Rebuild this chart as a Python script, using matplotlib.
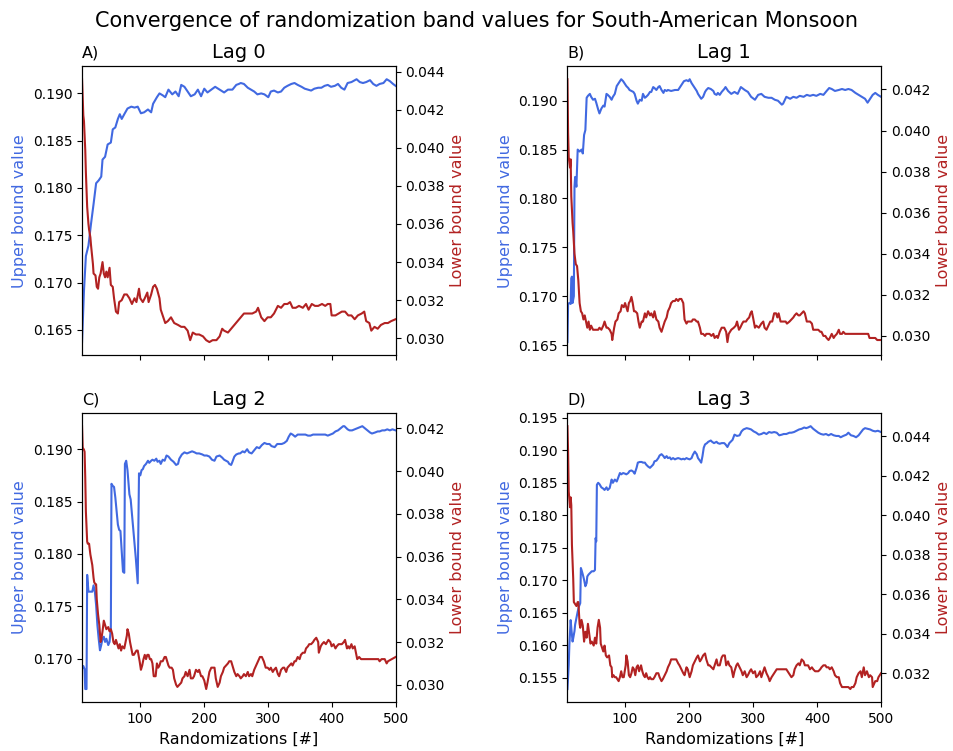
import matplotlib
matplotlib.use("Agg")
import matplotlib.pyplot as plt

### DATA ###
# Lag 0
lag0_up_x = [10, 13, 16, 20, 24, 28, 32, 36, 40, 42,
             46, 50, 55, 58, 62, 66, 69, 72, 76, 81,
             87, 92, 97, 102, 107, 113, 118, 121, 127, 131,
             136, 140, 145, 151, 156, 161, 165, 170, 175, 180,
             186, 191, 196, 201, 206, 212, 218, 225, 232, 238,
             245, 251, 255, 258, 263, 269, 274, 279, 284, 290,
             295, 301, 305, 310, 316, 321, 326, 331, 337, 342,
             347, 353, 358, 363, 368, 373, 379, 384, 389, 394,
             399, 405, 410, 415, 420, 425, 431, 439, 444, 449,
             454, 460, 465, 470, 475, 481, 486, 491, 496, 500]
lag0_up = [0.1637, 0.1691, 0.1728, 0.1739, 0.1762, 0.1783, 0.1805, 0.1808, 0.1812, 0.1830,
           0.1833, 0.1846, 0.1848, 0.1862, 0.1864, 0.1873, 0.1878, 0.1873, 0.1878, 0.1884,
           0.1886, 0.1885, 0.1886, 0.1879, 0.1880, 0.1883, 0.1880, 0.1889, 0.1896, 0.1900,
           0.1898, 0.1896, 0.1904, 0.1899, 0.1902, 0.1897, 0.1909, 0.1907, 0.1902, 0.1897,
           0.1899, 0.1904, 0.1897, 0.1905, 0.1901, 0.1904, 0.1907, 0.1904, 0.1901, 0.1904,
           0.1904, 0.1909, 0.1910, 0.1911, 0.1910, 0.1906, 0.1904, 0.1902, 0.1899, 0.1900,
           0.1899, 0.1896, 0.1902, 0.1903, 0.1901, 0.1902, 0.1906, 0.1908, 0.1910, 0.1911,
           0.1909, 0.1907, 0.1905, 0.1904, 0.1903, 0.1905, 0.1906, 0.1906, 0.1908, 0.1909,
           0.1907, 0.1908, 0.1910, 0.1906, 0.1904, 0.1911, 0.1912, 0.1915, 0.1912, 0.1911,
           0.1912, 0.1914, 0.1910, 0.1908, 0.1910, 0.1911, 0.1915, 0.1913, 0.1910, 0.1908]
lag0_low_x = [10, 12, 13, 15, 16, 18, 20, 21, 23, 24,
              27, 28, 31, 33, 35, 37, 39, 42, 44, 46,
              48, 50, 53, 55, 58, 60, 63, 66, 68, 72,
              76, 80, 84, 88, 92, 95, 99, 101, 105, 108,
              112, 114, 118, 121, 124, 127, 131, 133, 137, 140,
              144, 149, 154, 160, 165, 170, 175, 179, 183, 188,
              193, 199, 204, 209, 214, 220, 225, 229, 232, 238,
              243, 248, 253, 258, 263, 269, 276, 282, 285, 290,
              295, 300, 305, 310, 316, 321, 326, 331, 335, 339,
              344, 349, 355, 360, 364, 369, 374, 379, 385, 390,
              394, 398, 400, 406, 411, 416, 421, 426, 431, 436,
              441, 447, 451, 454, 459, 462, 467, 472, 477, 483,
              488, 493, 500]
lag0_low = [0.0436, 0.0417, 0.0414, 0.0399, 0.0387, 0.0369, 0.0360, 0.0357, 0.0353, 0.0349,
            0.0339, 0.0334, 0.0333, 0.0327, 0.0326, 0.0332, 0.0334, 0.0340, 0.0334, 0.0332,
            0.0335, 0.0332, 0.0337, 0.0328, 0.0327, 0.0321, 0.0314, 0.0313, 0.0319, 0.0320,
            0.0323, 0.0323, 0.0321, 0.0318, 0.0321, 0.0319, 0.0326, 0.0321, 0.0319, 0.0321,
            0.0324, 0.0319, 0.0323, 0.0327, 0.0328, 0.0326, 0.0321, 0.0315, 0.0311, 0.0308,
            0.0309, 0.0311, 0.0308, 0.0307, 0.0306, 0.0306, 0.0304, 0.0299, 0.0303, 0.0302,
            0.0302, 0.0301, 0.0299, 0.0298, 0.0299, 0.0299, 0.0301, 0.0305, 0.0304, 0.0303,
            0.0305, 0.0307, 0.0309, 0.0311, 0.0313, 0.0313, 0.0313, 0.0314, 0.0316, 0.0311,
            0.0309, 0.0311, 0.0311, 0.0313, 0.0317, 0.0316, 0.0318, 0.0318, 0.0319, 0.0316,
            0.0316, 0.0317, 0.0316, 0.0318, 0.0315, 0.0318, 0.0317, 0.0317, 0.0318, 0.0317,
            0.0318, 0.0318, 0.0312, 0.0312, 0.0313, 0.0314, 0.0314, 0.0312, 0.0312, 0.0310,
            0.0312, 0.0313, 0.0314, 0.0309, 0.0308, 0.0304, 0.0306, 0.0305, 0.0307, 0.0308,
            0.0308, 0.0309, 0.0310]

# Lag 1
lag1_up_x = [10, 11, 13, 15, 16, 17, 18, 20, 21, 22,
             24, 26, 29, 32, 34, 36, 38, 40, 42, 45,
             47, 50, 53, 55, 58, 60, 63, 66, 68, 71,
             73, 76, 79, 81, 84, 87, 89, 92, 94, 97,
             100, 102, 105, 107, 110, 113, 115, 118, 120, 123,
             126, 128, 131, 133, 136, 139, 141, 144, 146, 149,
             152, 154, 157, 160, 162, 165, 167, 172, 178, 183,
             188, 192, 196, 199, 201, 204, 206, 209, 212, 214,
             217, 219, 222, 225, 227, 230, 234, 238, 240, 243,
             245, 248, 251, 255, 257, 261, 266, 271, 276, 281,
             287, 292, 297, 303, 308, 313, 318, 324, 329, 334,
             339, 345, 347, 352, 358, 363, 368, 373, 379, 384,
             389, 394, 399, 405, 410, 415, 419, 423, 428, 434,
             439, 444, 449, 454, 460, 465, 470, 475, 479, 483,
             487, 491, 495, 500]
lag1_up = [0.1653, 0.1692, 0.1693, 0.1692, 0.1718, 0.1720, 0.1693, 0.1700, 0.1812, 0.1822,
           0.1812, 0.1850, 0.1848, 0.1850, 0.1846, 0.1865, 0.1870, 0.1903, 0.1905, 0.1907,
           0.1904, 0.1901, 0.1902, 0.1898, 0.1891, 0.1887, 0.1892, 0.1895, 0.1894, 0.1907,
           0.1906, 0.1904, 0.1901, 0.1904, 0.1907, 0.1915, 0.1917, 0.1920, 0.1922, 0.1920,
           0.1917, 0.1915, 0.1913, 0.1911, 0.1910, 0.1909, 0.1907, 0.1900, 0.1897, 0.1901,
           0.1900, 0.1907, 0.1903, 0.1904, 0.1906, 0.1909, 0.1909, 0.1914, 0.1913, 0.1911,
           0.1914, 0.1915, 0.1911, 0.1908, 0.1911, 0.1910, 0.1911, 0.1910, 0.1911, 0.1911,
           0.1916, 0.1920, 0.1921, 0.1920, 0.1922, 0.1918, 0.1916, 0.1913, 0.1910, 0.1907,
           0.1904, 0.1902, 0.1904, 0.1909, 0.1911, 0.1913, 0.1912, 0.1910, 0.1907, 0.1906,
           0.1908, 0.1906, 0.1909, 0.1912, 0.1914, 0.1910, 0.1907, 0.1909, 0.1907, 0.1914,
           0.1911, 0.1909, 0.1904, 0.1901, 0.1906, 0.1907, 0.1904, 0.1903, 0.1903, 0.1901,
           0.1900, 0.1896, 0.1897, 0.1904, 0.1902, 0.1904, 0.1903, 0.1905, 0.1904, 0.1906,
           0.1905, 0.1906, 0.1905, 0.1907, 0.1906, 0.1910, 0.1913, 0.1912, 0.1910, 0.1911,
           0.1912, 0.1911, 0.1912, 0.1911, 0.1908, 0.1906, 0.1904, 0.1902, 0.1898, 0.1902,
           0.1906, 0.1908, 0.1906, 0.1904]
lag1_low_x = [10, 11, 12, 14, 15, 16, 18, 19, 21, 23,
              25, 27, 29, 31, 33, 35, 37, 39, 41, 43,
              45, 47, 50, 53, 55, 58, 60, 63, 66, 68,
              71, 73, 76, 79, 80, 83, 85, 88, 90, 93,
              95, 98, 100, 104, 106, 108, 110, 112, 114, 116,
              119, 121, 123, 126, 128, 131, 133, 136, 139, 141,
              144, 146, 149, 152, 154, 157, 159, 162, 165, 167,
              170, 172, 175, 178, 180, 183, 185, 188, 191, 193,
              196, 198, 201, 204, 206, 209, 212, 214, 217, 219,
              222, 225, 227, 230, 232, 235, 238, 240, 243, 245,
              248, 251, 255, 258, 260, 262, 266, 270, 273, 275,
              278, 280, 283, 285, 289, 291, 294, 296, 298, 300,
              303, 305, 309, 313, 316, 318, 321, 324, 327, 330,
              333, 336, 338, 340, 343, 346, 348, 351, 353, 357,
              360, 363, 365, 368, 371, 373, 376, 379, 381, 384,
              386, 389, 392, 394, 397, 400, 402, 405, 407, 410,
              413, 415, 418, 420, 423, 426, 428, 431, 434, 436,
              439, 441, 444, 447, 480, 482, 486, 491, 494, 500]
lag1_low = [0.0425, 0.0399, 0.0387, 0.0382, 0.0386, 0.0368, 0.0355, 0.0351, 0.0340, 0.0335,
            0.0334, 0.0327, 0.0316, 0.0312, 0.0311, 0.0308, 0.0310, 0.0307, 0.0304, 0.0307,
            0.0303, 0.0305, 0.0303, 0.0303, 0.0303, 0.0303, 0.0304, 0.0303, 0.0305, 0.0307,
            0.0304, 0.0304, 0.0303, 0.0301, 0.0298, 0.0304, 0.0307, 0.0308, 0.0311, 0.0312,
            0.0315, 0.0314, 0.0316, 0.0312, 0.0316, 0.0317, 0.0319, 0.0316, 0.0312, 0.0312,
            0.0311, 0.0307, 0.0304, 0.0307, 0.0307, 0.0311, 0.0309, 0.0312, 0.0310, 0.0311,
            0.0309, 0.0312, 0.0308, 0.0307, 0.0304, 0.0302, 0.0304, 0.0307, 0.0309, 0.0312,
            0.0314, 0.0316, 0.0317, 0.0317, 0.0318, 0.0317, 0.0318, 0.0318, 0.0316, 0.0308,
            0.0306, 0.0307, 0.0307, 0.0307, 0.0308, 0.0308, 0.0307, 0.0307, 0.0304, 0.0301,
            0.0301, 0.0300, 0.0301, 0.0301, 0.0301, 0.0300, 0.0301, 0.0299, 0.0300, 0.0299,
            0.0302, 0.0304, 0.0304, 0.0302, 0.0297, 0.0301, 0.0303, 0.0304, 0.0305, 0.0307,
            0.0303, 0.0304, 0.0306, 0.0307, 0.0307, 0.0308, 0.0309, 0.0311, 0.0312, 0.0309,
            0.0304, 0.0305, 0.0304, 0.0306, 0.0307, 0.0304, 0.0303, 0.0305, 0.0307, 0.0307,
            0.0311, 0.0311, 0.0309, 0.0311, 0.0307, 0.0307, 0.0307, 0.0307, 0.0306, 0.0307,
            0.0308, 0.0309, 0.0310, 0.0311, 0.0310, 0.0310, 0.0311, 0.0312, 0.0311, 0.0307,
            0.0307, 0.0307, 0.0306, 0.0303, 0.0303, 0.0303, 0.0303, 0.0302, 0.0302, 0.0300,
            0.0300, 0.0299, 0.0298, 0.0299, 0.0301, 0.0299, 0.0300, 0.0301, 0.0303, 0.0301,
            0.0301, 0.0302, 0.0301, 0.0301, 0.0301, 0.0299, 0.0299, 0.0299, 0.0298, 0.0298]

# Lag 2
lag2_up_x = [10, 12, 14, 15, 17, 18, 20, 22, 26, 28,
             30, 32, 34, 36, 38, 40, 42, 44, 46, 48,
             51, 53, 55, 56, 58, 60, 62, 64, 66, 68,
             70, 72, 74, 76, 77, 79, 81, 84, 86, 88,
             90, 92, 94, 96, 97, 99, 101, 103, 105, 107,
             110, 113, 115, 118, 120, 123, 126, 128, 131, 133,
             136, 139, 142, 145, 149, 153, 157, 160, 162, 166,
             170, 174, 178, 182, 186, 189, 193, 198, 201, 205,
             209, 213, 217, 220, 225, 229, 232, 235, 238, 240,
             243, 245, 248, 251, 255, 257, 261, 264, 268, 271,
             275, 279, 283, 287, 291, 295, 299, 303, 306, 311,
             315, 318, 322, 326, 330, 333, 336, 339, 343, 347,
             351, 355, 359, 363, 367, 371, 374, 379, 383, 386,
             390, 394, 398, 402, 406, 410, 414, 418, 420, 425,
             428, 432, 436, 440, 444, 448, 452, 456, 460, 463,
             468, 472, 475, 479, 483, 487, 491, 495, 500]
lag2_up = [0.1690, 0.1693, 0.1690, 0.1671, 0.1671, 0.1780, 0.1764, 0.1764, 0.1764, 0.1770,
           0.1764, 0.1751, 0.1732, 0.1719, 0.1708, 0.1713, 0.1719, 0.1721, 0.1716, 0.1719,
           0.1713, 0.1716, 0.1729, 0.1867, 0.1865, 0.1864, 0.1854, 0.1841, 0.1828, 0.1823,
           0.1822, 0.1803, 0.1783, 0.1782, 0.1886, 0.1889, 0.1880, 0.1857, 0.1852, 0.1838,
           0.1825, 0.1809, 0.1796, 0.1780, 0.1772, 0.1877, 0.1875, 0.1880, 0.1881, 0.1884,
           0.1886, 0.1889, 0.1887, 0.1889, 0.1890, 0.1889, 0.1891, 0.1888, 0.1889, 0.1886,
           0.1890, 0.1889, 0.1894, 0.1893, 0.1890, 0.1888, 0.1885, 0.1886, 0.1891, 0.1895,
           0.1897, 0.1896, 0.1897, 0.1898, 0.1897, 0.1896, 0.1896, 0.1895, 0.1894, 0.1894,
           0.1893, 0.1890, 0.1889, 0.1893, 0.1894, 0.1892, 0.1890, 0.1889, 0.1888, 0.1886,
           0.1885, 0.1888, 0.1893, 0.1895, 0.1896, 0.1896, 0.1898, 0.1897, 0.1900, 0.1897,
           0.1896, 0.1899, 0.1902, 0.1901, 0.1904, 0.1906, 0.1905, 0.1905, 0.1903, 0.1902,
           0.1905, 0.1905, 0.1905, 0.1906, 0.1908, 0.1912, 0.1915, 0.1914, 0.1912, 0.1914,
           0.1914, 0.1914, 0.1914, 0.1913, 0.1913, 0.1914, 0.1914, 0.1914, 0.1914, 0.1914,
           0.1914, 0.1913, 0.1914, 0.1915, 0.1917, 0.1918, 0.1920, 0.1922, 0.1922, 0.1919,
           0.1918, 0.1918, 0.1919, 0.1920, 0.1921, 0.1922, 0.1920, 0.1918, 0.1916, 0.1915,
           0.1916, 0.1917, 0.1917, 0.1918, 0.1918, 0.1919, 0.1918, 0.1919, 0.1918]
lag2_low_x = [10, 11, 13, 14, 15, 16, 18, 19, 21, 23,
              26, 28, 29, 31, 32, 33, 35, 37, 39, 40,
              42, 44, 46, 48, 51, 53, 55, 57, 59, 61,
              63, 65, 67, 69, 71, 73, 76, 78, 80, 81,
              83, 85, 87, 89, 91, 93, 95, 97, 100, 102,
              104, 106, 108, 110, 112, 114, 116, 118, 120, 122,
              125, 127, 129, 131, 133, 136, 139, 141, 143, 145,
              147, 150, 152, 154, 157, 159, 162, 165, 167, 170,
              172, 175, 178, 180, 183, 185, 188, 191, 193, 196,
              198, 201, 204, 206, 209, 212, 214, 217, 219, 222,
              225, 227, 230, 232, 235, 238, 240, 243, 245, 248,
              251, 253, 256, 258, 261, 263, 266, 269, 271, 274,
              276, 279, 282, 285, 288, 291, 294, 297, 300, 303,
              305, 308, 310, 313, 316, 318, 321, 324, 326, 329,
              331, 334, 337, 339, 342, 344, 347, 350, 352, 355,
              358, 360, 363, 365, 368, 371, 373, 376, 379, 380,
              383, 385, 388, 391, 393, 395, 398, 400, 403, 406,
              408, 411, 414, 416, 419, 421, 424, 426, 428, 431,
              433, 436, 438, 440, 443, 446, 470, 473, 475, 478,
              483, 486, 488, 494, 500]
lag2_low = [0.0421, 0.0411, 0.0410, 0.0409, 0.0397, 0.0381, 0.0367, 0.0366, 0.0366, 0.0361,
            0.0356, 0.0350, 0.0348, 0.0347, 0.0347, 0.0340, 0.0333, 0.0328, 0.0320, 0.0321,
            0.0325, 0.0330, 0.0328, 0.0326, 0.0327, 0.0325, 0.0326, 0.0324, 0.0320, 0.0319,
            0.0321, 0.0319, 0.0317, 0.0319, 0.0316, 0.0318, 0.0317, 0.0320, 0.0323, 0.0326,
            0.0324, 0.0320, 0.0317, 0.0314, 0.0314, 0.0315, 0.0316, 0.0316, 0.0311, 0.0307,
            0.0309, 0.0312, 0.0314, 0.0312, 0.0314, 0.0314, 0.0312, 0.0312, 0.0310, 0.0304,
            0.0304, 0.0310, 0.0308, 0.0309, 0.0311, 0.0311, 0.0313, 0.0313, 0.0311, 0.0309,
            0.0308, 0.0308, 0.0307, 0.0303, 0.0300, 0.0299, 0.0300, 0.0301, 0.0303, 0.0304,
            0.0306, 0.0304, 0.0307, 0.0303, 0.0303, 0.0304, 0.0307, 0.0306, 0.0307, 0.0304,
            0.0304, 0.0302, 0.0298, 0.0301, 0.0306, 0.0308, 0.0308, 0.0308, 0.0303, 0.0299,
            0.0301, 0.0304, 0.0306, 0.0308, 0.0309, 0.0310, 0.0311, 0.0311, 0.0309, 0.0306,
            0.0304, 0.0305, 0.0304, 0.0303, 0.0304, 0.0305, 0.0304, 0.0306, 0.0304, 0.0305,
            0.0304, 0.0307, 0.0309, 0.0311, 0.0313, 0.0313, 0.0311, 0.0308, 0.0308, 0.0307,
            0.0308, 0.0306, 0.0307, 0.0308, 0.0305, 0.0304, 0.0307, 0.0308, 0.0308, 0.0306,
            0.0308, 0.0309, 0.0310, 0.0309, 0.0311, 0.0311, 0.0313, 0.0312, 0.0314, 0.0315,
            0.0315, 0.0317, 0.0318, 0.0319, 0.0319, 0.0320, 0.0321, 0.0322, 0.0320, 0.0315,
            0.0318, 0.0319, 0.0320, 0.0319, 0.0320, 0.0321, 0.0320, 0.0318, 0.0319, 0.0317,
            0.0318, 0.0319, 0.0319, 0.0319, 0.0320, 0.0321, 0.0317, 0.0318, 0.0317, 0.0319,
            0.0317, 0.0318, 0.0315, 0.0312, 0.0313, 0.0312, 0.0312, 0.0312, 0.0311, 0.0312,
            0.0312, 0.0310, 0.0311, 0.0312, 0.0313]

# Lag 3
lag3_up_x = [10, 12, 13, 15, 16, 18, 19, 21, 22, 24,
             26, 28, 30, 31, 32, 34, 36, 38, 40, 41,
             43, 45, 48, 51, 53, 54, 55, 56, 58, 60,
             63, 66, 68, 71, 73, 76, 79, 81, 84, 87,
             89, 92, 94, 97, 100, 102, 105, 107, 110, 113,
             115, 118, 120, 123, 126, 128, 131, 133, 136, 139,
             141, 144, 146, 149, 152, 154, 157, 160, 162, 165,
             167, 170, 172, 175, 178, 180, 183, 186, 188, 191,
             193, 196, 198, 201, 204, 206, 209, 212, 214, 217,
             219, 221, 223, 225, 228, 230, 234, 236, 239, 243,
             245, 248, 251, 255, 257, 260, 263, 268, 271, 275,
             279, 282, 285, 290, 294, 297, 301, 305, 309, 313,
             317, 321, 325, 329, 333, 337, 341, 345, 348, 352,
             357, 360, 364, 368, 372, 376, 380, 383, 386, 390,
             394, 398, 402, 406, 410, 414, 418, 422, 426, 430,
             434, 437, 441, 446, 449, 453, 457, 461, 465, 469,
             472, 475, 479, 483, 487, 491, 495, 500]
lag3_up = [0.1533, 0.1570, 0.1601, 0.1639, 0.1627, 0.1606, 0.1611, 0.1622, 0.1632, 0.1642,
           0.1652, 0.1660, 0.1665, 0.1719, 0.1716, 0.1709, 0.1701, 0.1691, 0.1696, 0.1706,
           0.1709, 0.1711, 0.1714, 0.1714, 0.1716, 0.1765, 0.1760, 0.1847, 0.1850, 0.1848,
           0.1843, 0.1841, 0.1839, 0.1843, 0.1839, 0.1842, 0.1855, 0.1850, 0.1855, 0.1852,
           0.1857, 0.1865, 0.1863, 0.1865, 0.1864, 0.1863, 0.1865, 0.1868, 0.1869, 0.1867,
           0.1864, 0.1873, 0.1881, 0.1882, 0.1882, 0.1881, 0.1881, 0.1878, 0.1875, 0.1873,
           0.1875, 0.1878, 0.1883, 0.1884, 0.1888, 0.1892, 0.1894, 0.1891, 0.1888, 0.1891,
           0.1888, 0.1889, 0.1886, 0.1888, 0.1886, 0.1887, 0.1888, 0.1887, 0.1886, 0.1887,
           0.1886, 0.1888, 0.1887, 0.1886, 0.1888, 0.1893, 0.1898, 0.1894, 0.1888, 0.1884,
           0.1881, 0.1891, 0.1904, 0.1909, 0.1911, 0.1913, 0.1915, 0.1913, 0.1911, 0.1913,
           0.1911, 0.1910, 0.1911, 0.1911, 0.1909, 0.1905, 0.1911, 0.1916, 0.1924, 0.1922,
           0.1923, 0.1929, 0.1932, 0.1934, 0.1933, 0.1932, 0.1929, 0.1927, 0.1924, 0.1925,
           0.1927, 0.1925, 0.1928, 0.1927, 0.1928, 0.1927, 0.1923, 0.1924, 0.1925, 0.1925,
           0.1927, 0.1927, 0.1928, 0.1930, 0.1932, 0.1933, 0.1935, 0.1934, 0.1935, 0.1937,
           0.1933, 0.1930, 0.1927, 0.1925, 0.1924, 0.1925, 0.1923, 0.1925, 0.1923, 0.1922,
           0.1922, 0.1920, 0.1922, 0.1924, 0.1927, 0.1923, 0.1922, 0.1920, 0.1923, 0.1928,
           0.1932, 0.1934, 0.1933, 0.1932, 0.1930, 0.1929, 0.1930, 0.1928]
lag3_low_x = [10, 11, 12, 14, 15, 16, 17, 19, 20, 22,
              24, 26, 27, 29, 30, 32, 34, 36, 38, 40,
              42, 44, 46, 48, 51, 53, 55, 57, 59, 61,
              62, 64, 66, 68, 70, 72, 75, 77, 79, 80,
              82, 84, 86, 88, 90, 92, 94, 96, 98, 101,
              102, 104, 106, 108, 110, 112, 114, 116, 118, 120,
              122, 125, 127, 129, 131, 133, 135, 137, 139, 141,
              144, 146, 149, 152, 154, 157, 159, 162, 165, 167,
              170, 172, 175, 178, 180, 183, 185, 188, 191, 193,
              196, 198, 201, 204, 206, 209, 212, 214, 217, 219,
              222, 225, 227, 230, 232, 235, 238, 240, 243, 245,
              248, 251, 253, 256, 258, 261, 263, 266, 269, 271,
              274, 276, 279, 282, 284, 287, 290, 292, 295, 297,
              300, 303, 305, 308, 311, 313, 316, 318, 321, 324,
              326, 329, 331, 337, 342, 347, 352, 358, 360, 363,
              365, 368, 371, 373, 376, 379, 381, 384, 386, 389,
              392, 394, 397, 400, 402, 405, 407, 410, 413, 415,
              418, 420, 423, 426, 428, 431, 434, 436, 439, 441,
              444, 447, 449, 452, 454, 457, 460, 462, 465, 468,
              470, 473, 475, 478, 481, 483, 486, 487, 491, 494,
              496, 500]
lag3_low = [0.0445, 0.0432, 0.0412, 0.0404, 0.0409, 0.0405, 0.0385, 0.0368, 0.0356, 0.0355,
            0.0354, 0.0356, 0.0356, 0.0345, 0.0343, 0.0347, 0.0344, 0.0336, 0.0341, 0.0338,
            0.0345, 0.0340, 0.0335, 0.0336, 0.0334, 0.0338, 0.0335, 0.0343, 0.0347, 0.0343,
            0.0335, 0.0333, 0.0331, 0.0334, 0.0329, 0.0328, 0.0329, 0.0324, 0.0323, 0.0318,
            0.0319, 0.0318, 0.0318, 0.0317, 0.0316, 0.0318, 0.0321, 0.0318, 0.0318, 0.0324,
            0.0329, 0.0326, 0.0319, 0.0318, 0.0320, 0.0323, 0.0322, 0.0319, 0.0323, 0.0324,
            0.0321, 0.0324, 0.0321, 0.0319, 0.0318, 0.0320, 0.0318, 0.0317, 0.0318, 0.0317,
            0.0317, 0.0318, 0.0320, 0.0320, 0.0318, 0.0316, 0.0317, 0.0319, 0.0321, 0.0323,
            0.0325, 0.0327, 0.0327, 0.0327, 0.0327, 0.0325, 0.0324, 0.0322, 0.0320, 0.0319,
            0.0323, 0.0322, 0.0318, 0.0321, 0.0324, 0.0326, 0.0328, 0.0329, 0.0326, 0.0327,
            0.0329, 0.0330, 0.0327, 0.0324, 0.0324, 0.0323, 0.0322, 0.0324, 0.0327, 0.0324,
            0.0324, 0.0328, 0.0329, 0.0329, 0.0324, 0.0326, 0.0324, 0.0323, 0.0318, 0.0321,
            0.0324, 0.0325, 0.0323, 0.0321, 0.0319, 0.0321, 0.0318, 0.0319, 0.0321, 0.0322,
            0.0320, 0.0321, 0.0318, 0.0319, 0.0321, 0.0318, 0.0321, 0.0323, 0.0320, 0.0318,
            0.0316, 0.0318, 0.0319, 0.0322, 0.0322, 0.0322, 0.0322, 0.0319, 0.0318, 0.0319,
            0.0322, 0.0324, 0.0325, 0.0324, 0.0327, 0.0326, 0.0324, 0.0324, 0.0324, 0.0322,
            0.0323, 0.0322, 0.0321, 0.0321, 0.0321, 0.0322, 0.0323, 0.0324, 0.0324, 0.0323,
            0.0323, 0.0322, 0.0323, 0.0321, 0.0319, 0.0318, 0.0318, 0.0315, 0.0313, 0.0313,
            0.0313, 0.0313, 0.0313, 0.0312, 0.0313, 0.0313, 0.0315, 0.0318, 0.0320, 0.0321,
            0.0318, 0.0323, 0.0319, 0.0321, 0.0318, 0.0319, 0.0318, 0.0313, 0.0316, 0.0316,
            0.0318, 0.0320]

panel_tags = ["A)", "B)", "C)", "D)"]
panel_titles = ["Lag 0", "Lag 1", "Lag 2", "Lag 3"]
upper_series = [(lag0_up_x, lag0_up), (lag1_up_x, lag1_up), (lag2_up_x, lag2_up), (lag3_up_x, lag3_up)]
lower_series = [(lag0_low_x, lag0_low), (lag1_low_x, lag1_low), (lag2_low_x, lag2_low), (lag3_low_x, lag3_low)]

UP_COLOR = "royalblue"
LOW_COLOR = "firebrick"

### PLOT ###
fig, axes = plt.subplots(2, 2, figsize=(9.54, 7.51), sharex=True)
fig.subplots_adjust(left=0.086, right=0.9235, top=0.912, bottom=0.065, wspace=0.548, hspace=0.2)
fig.suptitle("Convergence of randomization band values for South-American Monsoon", fontsize=15, y=0.985)

for ax, tag, title, (ux, uy), (lx, ly) in zip(axes.flat, panel_tags, panel_titles, upper_series, lower_series):
    ax.plot(ux, uy, color=UP_COLOR)
    ax.set_ylabel("Upper bound value", color=UP_COLOR, fontsize=11.5)
    ax2 = ax.twinx()
    ax2.plot(lx, ly, color=LOW_COLOR)
    ax2.set_ylabel("Lower bound value", color=LOW_COLOR, fontsize=11.5)
    ax.set_title(title, fontsize=14)
    ax.set_title(tag, loc="left", fontsize=11.5)
    ax.set_xlim(10, 500)

for ax in axes[1]:
    ax.set_xlabel("Randomizations [#]", fontsize=11.5)

fig.savefig("out.png", dpi=100)
